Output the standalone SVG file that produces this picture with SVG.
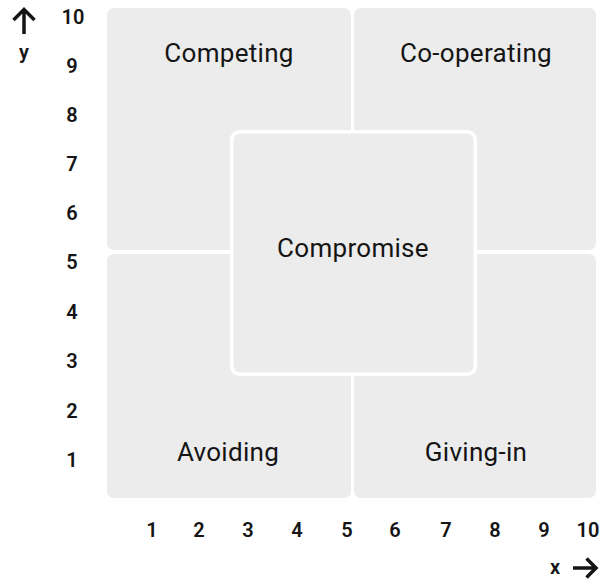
<svg xmlns="http://www.w3.org/2000/svg" width="604" height="582" viewBox="0 0 604 582">
  <defs>
    <style>
      .quad { fill: #ececec; }
      .centre { fill: #ececec; stroke: #ffffff; stroke-width: 3.5; }
      .label { font-family: Roboto, "Liberation Sans", sans-serif; font-size: 26px; fill: #151515; text-anchor: middle; letter-spacing: 0.3px; }
      .tick { font-family: Roboto, "Liberation Sans", sans-serif; font-size: 20px; font-weight: 600; fill: #151515; text-anchor: middle; }
      .arrow { fill: none; stroke: #151515; stroke-width: 3.5; stroke-linecap: butt; stroke-linejoin: miter; }
    </style>
  </defs>
  <rect width="604" height="582" fill="#ffffff"/>

  <!-- quadrants -->
  <g id="competing">
    <rect class="quad" x="107" y="8" width="244" height="242" rx="7"/>
    <text class="label" x="229" y="62">Competing</text>
  </g>
  <g id="co-operating">
    <rect class="quad" x="354" y="8" width="242" height="242" rx="7"/>
    <text class="label" x="476" y="62">Co-operating</text>
  </g>
  <g id="avoiding">
    <rect class="quad" x="107" y="254" width="244" height="244" rx="7"/>
    <text class="label" x="228" y="461">Avoiding</text>
  </g>
  <g id="giving-in">
    <rect class="quad" x="354" y="254" width="242" height="244" rx="7"/>
    <text class="label" x="476" y="461">Giving-in</text>
  </g>

  <!-- centre region drawn over the four quadrants -->
  <g id="compromise">
    <rect class="centre" x="231.75" y="131.75" width="243.5" height="242.5" rx="8"/>
    <text class="label" x="353" y="257">Compromise</text>
  </g>

  <!-- axes -->
  <g id="axes">
    <g id="y-axis">
      <path class="arrow" d="M24 34 V10 M13.5 20 L24 9.5 L34.5 20"/>
      <text class="tick" x="24" y="59">y</text>
      <text class="tick" x="73" y="24">10</text>
      <text class="tick" x="72" y="72.5">9</text>
      <text class="tick" x="72" y="122">8</text>
      <text class="tick" x="72" y="171">7</text>
      <text class="tick" x="72" y="220">6</text>
      <text class="tick" x="72" y="269">5</text>
      <text class="tick" x="72" y="319">4</text>
      <text class="tick" x="72" y="368">3</text>
      <text class="tick" x="72" y="418">2</text>
      <text class="tick" x="72" y="467">1</text>
    </g>
    <g id="x-axis">
      <text class="tick" x="152" y="537">1</text>
      <text class="tick" x="199" y="537">2</text>
      <text class="tick" x="248" y="537">3</text>
      <text class="tick" x="297" y="537">4</text>
      <text class="tick" x="347" y="537">5</text>
      <text class="tick" x="395" y="537">6</text>
      <text class="tick" x="446" y="537">7</text>
      <text class="tick" x="495" y="537">8</text>
      <text class="tick" x="544" y="537">9</text>
      <text class="tick" x="588" y="537">10</text>
      <text class="tick" x="555" y="574">x</text>
      <path class="arrow" d="M573 568 H596 M586.5 558.5 L596 568 L586.5 577.5"/>
    </g>
  </g>
</svg>
